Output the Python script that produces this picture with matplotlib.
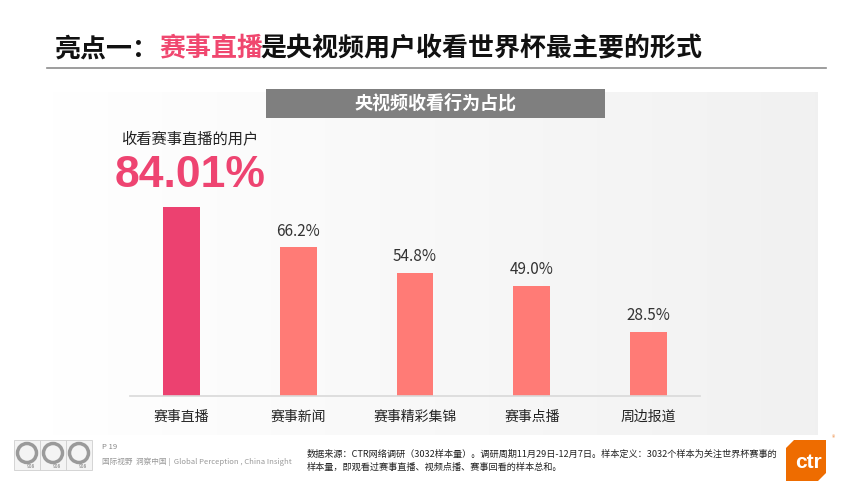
import matplotlib
matplotlib.use('Agg')
import matplotlib.pyplot as plt
import numpy as np
from matplotlib.patches import Rectangle, Ellipse, Polygon

plt.rcParams['font.family'] = ['Noto Sans CJK SC', 'DejaVu Sans']

# dati
categorie = ['赛事直播', '赛事新闻', '赛事精彩集锦', '赛事点播', '周边报道']
valori = [84.01, 66.2, 54.8, 49.0, 28.5]
etichette = ['84.01%', '66.2%', '54.8%', '49.0%', '28.5%']
colori = ['#EC4170', '#FF7B76', '#FF7B76', '#FF7B76', '#FF7B76']

W, H = 867, 488
fig = plt.figure(figsize=(W / 100, H / 100), dpi=100)
fig.patch.set_facecolor('white')


def fx(x):
    return x / W


def fy(y):
    return 1 - y / H


# pannello con sfumatura
bg = fig.add_axes([fx(52), fy(435), fx(818 - 52), (435 - 92) / H], zorder=0)
grad = np.linspace(1.0, 0.945, 256).reshape(1, -1)
bg.imshow(np.dstack([grad, grad, grad]), aspect='auto', extent=[0, 1, 0, 1])
bg.axis('off')

# titolo
fig.text(fx(55), fy(49), '亮点一：', fontsize=18.7, fontweight='bold', color='#111111', va='center')
fig.text(fx(159), fy(49), '赛事直播', fontsize=18.7, fontweight='bold', color='#F0476F', va='center')
fig.text(fx(260), fy(49), '是央视频用户收看世界杯最主要的形式', fontsize=18.7, fontweight='bold',
         color='#111111', va='center')
fig.add_artist(plt.Line2D([fx(47), fx(826)], [fy(68), fy(68)], color='#8C8C8C', lw=1.2))

# intestazione grigia
fig.add_artist(Rectangle((fx(266), fy(118)), fx(605 - 266), (118 - 89) / H,
                         facecolor='#7F7F7F', edgecolor='none', zorder=2))
fig.text(fx(435), fy(103), '央视频收看行为占比', fontsize=13, fontweight='bold', color='white',
         ha='center', va='center', zorder=3)

# grafico a barre
ax = fig.add_axes([fx(130), fy(396), fx(700 - 130), 225 / H], zorder=1)
ax.patch.set_alpha(0)
x = np.arange(len(categorie))
ax.bar(x, valori, width=37 / 117, color=colori, zorder=2)
ax.set_xlim(-0.44, 4.44)
ax.set_ylim(0, 100)
for s in ['top', 'right', 'left']:
    ax.spines[s].set_visible(False)
ax.spines['bottom'].set_color('#D9D9D9')
ax.spines['bottom'].set_linewidth(1.2)
ax.set_yticks([])
ax.set_xticks(x)
ax.set_xticklabels(categorie, fontsize=10, color='#222222')
ax.tick_params(axis='x', length=0, pad=10)

for i in range(1, len(valori)):
    ax.annotate(etichette[i], (x[i], valori[i]), xytext=(0, 11.5), textcoords='offset points',
                ha='center', va='center', fontsize=11, color='#333333')

# numero grande per la prima barra
ax.annotate(etichette[0], (x[0], valori[0]), xytext=(6, 22.5), textcoords='offset points',
            ha='center', va='center', fontsize=32, fontweight='bold', color='#EE4471',
            family=['Liberation Sans', 'DejaVu Sans'])
ax.annotate('收看赛事直播的用户', (x[0], valori[0]), xytext=(6, 49), textcoords='offset points',
            ha='center', va='center', fontsize=11, color='#222222')

# piè di pagina
for k in range(3):
    cx = 27 + k * 26
    fig.add_artist(Rectangle((fx(cx - 13), fy(470)), fx(26), 30 / H, facecolor='#F4F4F4',
                             edgecolor='#CFCFCF', lw=0.6))
    fig.add_artist(Ellipse((fx(cx), fy(453)), 19 / W, 19 / H, facecolor='none', edgecolor='#9A9A9A',
                           lw=2.5))
    fig.text(fx(cx + 4), fy(467), '908', fontsize=3.5, color='#777777', ha='center', va='center')
fig.text(fx(102), fy(447), 'P 19', fontsize=5.5, color='#888888', va='center')
fig.text(fx(102), fy(462), '国际视野  洞察中国 |  Global Perception , China Insight', fontsize=5.5,
         color='#999999', va='center')
fig.text(fx(307), fy(454), '数据来源：CTR网络调研（3032样本量）。调研周期11月29日-12月7日。样本定义：3032个样本为关注世界杯赛事的',
         fontsize=6.6, color='#222222', va='center')
fig.text(fx(307), fy(467), '样本量，即观看过赛事直播、视频点播、赛事回看的样本总和。',
         fontsize=6.6, color='#222222', va='center')

# logo ctr
logo = Polygon([(fx(794), fy(440)), (fx(826), fy(440)), (fx(826), fy(473)), (fx(818), fy(481)),
                (fx(786), fy(481)), (fx(786), fy(448))], closed=True, facecolor='#EE6C00',
               edgecolor='none')
fig.add_artist(logo)
fig.text(fx(808), fy(462), 'ctr', fontsize=15, fontweight='bold', color='white', ha='center',
         va='center', family=['Liberation Sans', 'DejaVu Sans'])
fig.text(fx(833), fy(438), '®', fontsize=5, color='#EE8A40', ha='center', va='center')

plt.savefig('out.png', dpi=100)
